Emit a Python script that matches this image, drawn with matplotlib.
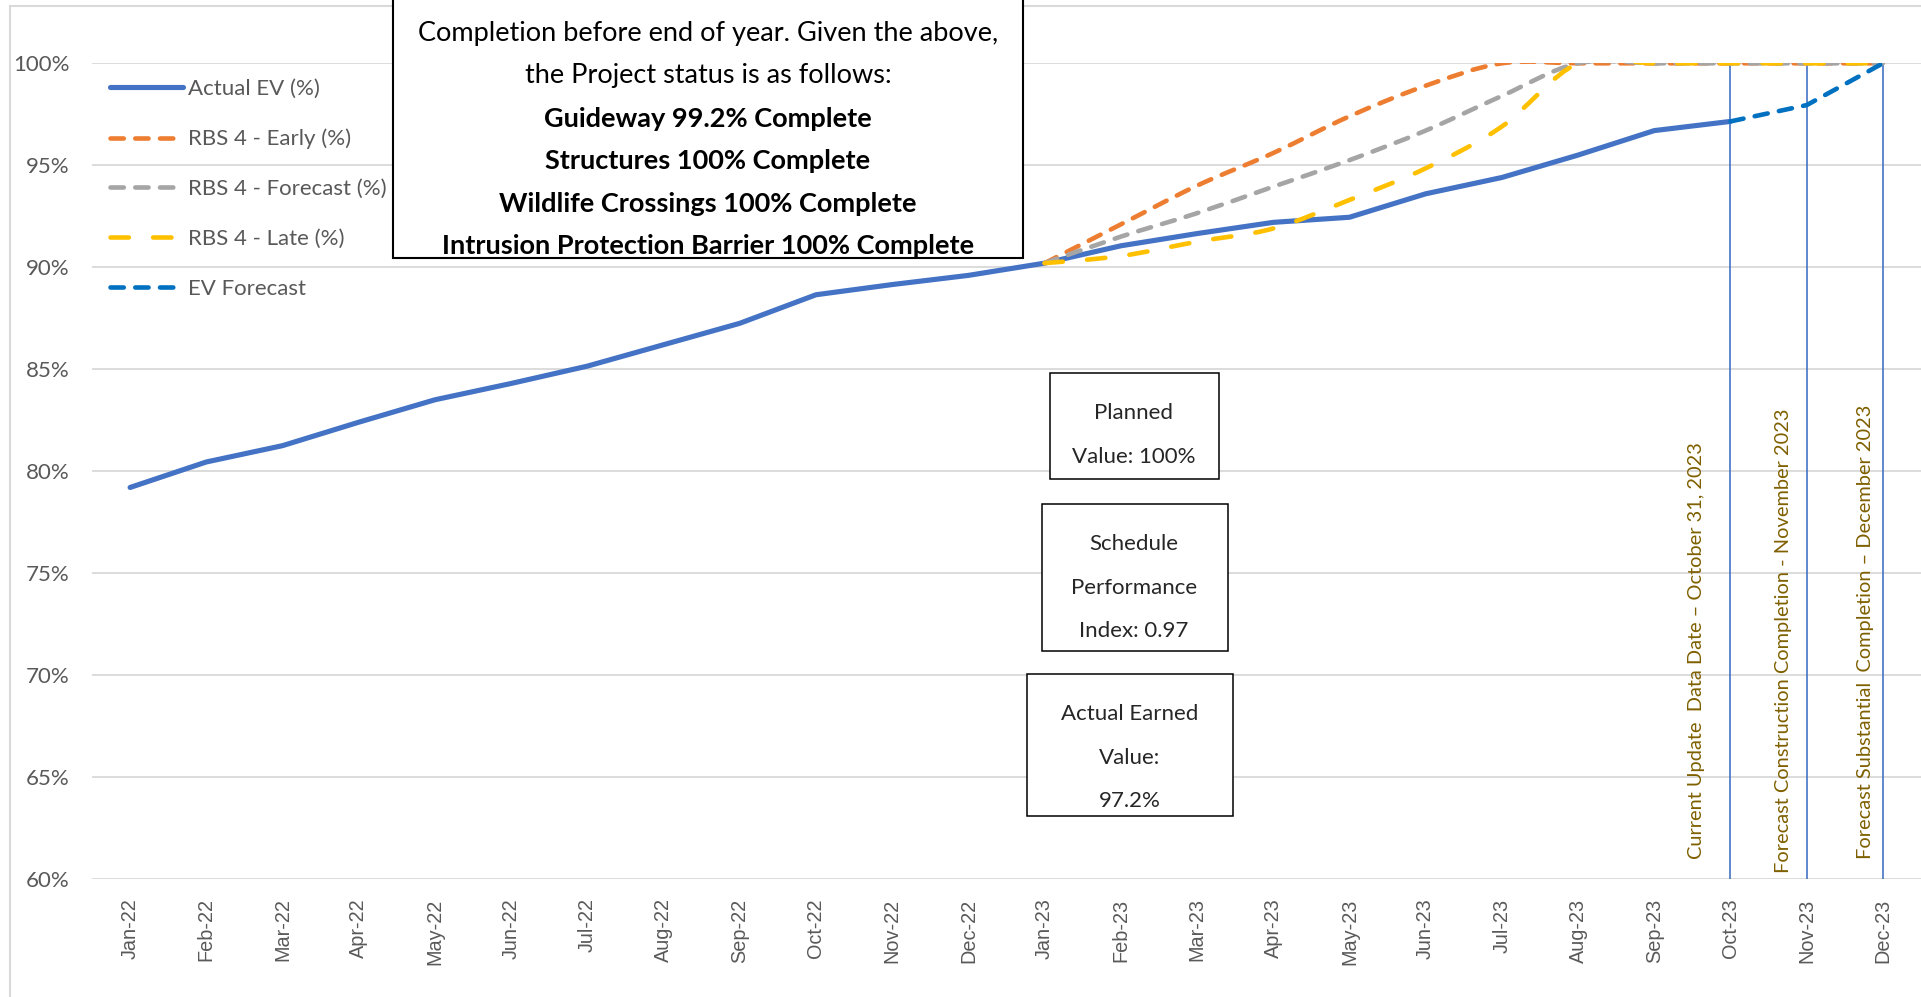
import numpy as np
import matplotlib
matplotlib.use("Agg")
import matplotlib.pyplot as plt
from matplotlib.path import Path
from matplotlib.patches import PathPatch, Rectangle
from matplotlib.lines import Line2D

# ---------------- data ----------------
months = ["Jan-22", "Feb-22", "Mar-22", "Apr-22", "May-22", "Jun-22", "Jul-22", "Aug-22",
          "Sep-22", "Oct-22", "Nov-22", "Dec-22", "Jan-23", "Feb-23", "Mar-23", "Apr-23",
          "May-23", "Jun-23", "Jul-23", "Aug-23", "Sep-23", "Oct-23", "Nov-23", "Dec-23"]
nan = np.nan
actual_ev = [79.2, 80.45, 81.25, 82.4, 83.5, 84.3, 85.15, 86.2, 87.25, 88.65, 89.15, 89.6,
             90.2, 91.05, 91.65, 92.2, 92.45, 93.6, 94.4, 95.5, 96.7, 97.15, nan, nan]
rbs_early = [nan] * 12 + [90.2, 92.1, 94.0, 95.6, 97.4, 98.9, 100, 100, 100, 100, 100, 100]
rbs_forecast = [nan] * 12 + [90.2, 91.5, 92.65, 93.95, 95.25, 96.7, 98.4, 100, 100, 100, 100, 100]
rbs_late = [nan] * 12 + [90.2, 90.55, 91.25, 91.9, 93.3, 94.85, 96.9, 100, 100, 100, 100, 100]
ev_forecast = [nan] * 21 + [97.15, 97.95, 100]

series_labels = ["Actual EV (%)", "RBS 4 - Early (%)", "RBS 4 - Forecast (%)",
                 "RBS 4 - Late (%)", "EV Forecast"]
yticks = [60, 65, 70, 75, 80, 85, 90, 95, 100]

milestone_months = ["Oct-23", "Nov-23", "Dec-23"]
milestone_texts = ["Current Update  Data Date \u2013 October 31, 2023",
                   "Forecast Construction Completion - November 2023",
                   "Forecast Substantial  Completion \u2013 December 2023"]

box_lines = ["Completion before end of year. Given the above,",
             "the Project status is as follows:",
             "Guideway 99.2% Complete",
             "Structures 100% Complete",
             "Wildlife Crossings 100% Complete",
             "Intrusion Protection Barrier 100% Complete"]
box_bold = [False, False, True, True, True, True]
planned_lines = ["Planned", "Value: 100%"]
spi_lines = ["Schedule", "Performance", "Index: 0.97"]
aev_lines = ["Actual Earned", "Value:", "97.2%"]

# ---------------- style ----------------
W, H = 1921, 997
C_ACT = "#4472C4"
C_EARLY = "#ED7D31"
C_FC = "#A5A5A5"
C_LATE = "#FFC000"
C_EVF = "#0070C0"
C_GRID = "#D9D9D9"
C_TXT = "#595959"
C_MS = "#7F6000"
FONT = "Lato"

fig = plt.figure(figsize=(W / 100, H / 100), dpi=100)
fig.patch.set_facecolor("white")


def fx(px):
    return px / W


def fy(py):
    return 1 - py / H


ax = fig.add_axes([fx(92), fy(879), fx(W - 92), (879 - 63.3) / H])
x = np.arange(len(months))
ax.set_xlim(-0.5, len(months) - 0.5)
ax.set_ylim(60, 100)
for s in ax.spines.values():
    s.set_visible(False)
ax.set_yticks(yticks)
ax.set_yticklabels([f"{v}%" for v in yticks], fontsize=16, color=C_TXT, family=FONT)
ax.set_xticks(x)
ax.set_xticklabels(months, rotation=90, fontsize=14.3, color=C_TXT, family="Liberation Sans")
ax.tick_params(axis="both", length=0)
ax.tick_params(axis="y", pad=16)
ax.tick_params(axis="x", pad=14)
ax.yaxis.grid(True, color=C_GRID, lw=1.3)
ax.set_axisbelow(True)


def smooth_path(xs, ys):
    xs = np.asarray(xs, float)
    ys = np.asarray(ys, float)
    m = ~np.isnan(ys)
    pts = np.column_stack([xs[m], ys[m]])
    n = len(pts)
    verts = [pts[0]]
    codes = [Path.MOVETO]
    for i in range(n - 1):
        p0 = pts[i - 1] if i > 0 else pts[i]
        p1 = pts[i]
        p2 = pts[i + 1]
        p3 = pts[i + 2] if i + 2 < n else pts[i + 1]
        c1 = p1 + (p2 - p0) / 6.0
        c2 = p2 - (p3 - p1) / 6.0
        verts += [c1, c2, p2]
        codes += [Path.CURVE4] * 3
    return Path(verts, codes)


dash_short = (0, (2.9, 2.5))
dash_long = (0, (4.0, 5.3))
LW = 3.3

# milestone vertical lines
ms_idx = [months.index(m) for m in milestone_months]
ax.vlines(ms_idx, 60, 100, color=C_ACT, lw=1.4, alpha=0.85, zorder=2)

ax.plot(x, actual_ev, color=C_ACT, lw=3.7, solid_capstyle="round", zorder=3)
for vals, col, ls, z in [(rbs_early, C_EARLY, dash_short, 4),
                         (rbs_forecast, C_FC, dash_short, 5),
                         (rbs_late, C_LATE, dash_long, 6)]:
    pp = PathPatch(smooth_path(x, vals), fill=False, ec=col, lw=LW, linestyle=ls,
                   capstyle="round", zorder=z)
    ax.add_patch(pp)
ax.plot(x, ev_forecast, color=C_EVF, lw=LW, linestyle=dash_short,
        dash_capstyle="round", zorder=7)

# milestone texts
ms_pos = [(20.56, 71.2), (21.69, 71.7), (22.77, 72.1)]
for (tx, ty), t in zip(ms_pos, milestone_texts):
    ax.text(tx, ty, t, rotation=90, ha="center", va="center", fontsize=14.4,
            color=C_MS, family=FONT, zorder=8)

# legend
handles = [
    Line2D([], [], color=C_ACT, lw=3.7, solid_capstyle="round"),
    Line2D([], [], color=C_EARLY, lw=LW, linestyle=dash_short, dash_capstyle="round"),
    Line2D([], [], color=C_FC, lw=LW, linestyle=dash_short, dash_capstyle="round"),
    Line2D([], [], color=C_LATE, lw=LW, linestyle=dash_long, dash_capstyle="round"),
    Line2D([], [], color=C_EVF, lw=LW, linestyle=dash_short, dash_capstyle="round"),
]
leg = fig.legend(handles, series_labels, loc="upper left",
                 bbox_to_anchor=(fx(110), fy(79)), frameon=False,
                 prop={"family": FONT, "size": 16}, labelcolor=C_TXT,
                 handlelength=3.3, handletextpad=0.22, labelspacing=1.34,
                 borderpad=0, borderaxespad=0)
leg.set_zorder(9)

# chart outer border
fig.patches.append(Rectangle((fx(10), -0.1), 2.0, fy(6) + 0.1, transform=fig.transFigure,
                             fill=False, ec=C_GRID, lw=1.5, zorder=1))

# top status box
fig.patches.append(Rectangle((fx(393), fy(258)), fx(1023 - 393), 0.5,
                             transform=fig.transFigure, fc="white", ec="black",
                             lw=1.5, zorder=10))
box_y = [33.0, 76.0, 118.8, 161.0, 203.5, 246.3]
for t, b, yy in zip(box_lines, box_bold, box_y):
    fig.text(fx(708), fy(yy), t, ha="center", va="center", fontsize=19.5,
             family=FONT, fontweight="bold" if b else "normal", color="black", zorder=11)


def small_box(x0, x1, y0, y1, lines, ys, cx):
    fig.patches.append(Rectangle((fx(x0), fy(y1)), fx(x1 - x0), (y1 - y0) / H,
                                 transform=fig.transFigure, fc="white", ec="black",
                                 lw=1.1, zorder=10))
    for t, yy in zip(lines, ys):
        fig.text(fx(cx), fy(yy), t, ha="center", va="center", fontsize=16,
                 family=FONT, color="#262626", zorder=11)


small_box(1050, 1219, 373, 479, planned_lines, [413, 457], 1134)
small_box(1042, 1228, 504, 651, spi_lines, [544, 588, 631], 1134)
small_box(1027, 1233, 674, 816, aev_lines, [714, 758, 801], 1130)

fig.savefig("out.png", dpi=100, facecolor="white")
